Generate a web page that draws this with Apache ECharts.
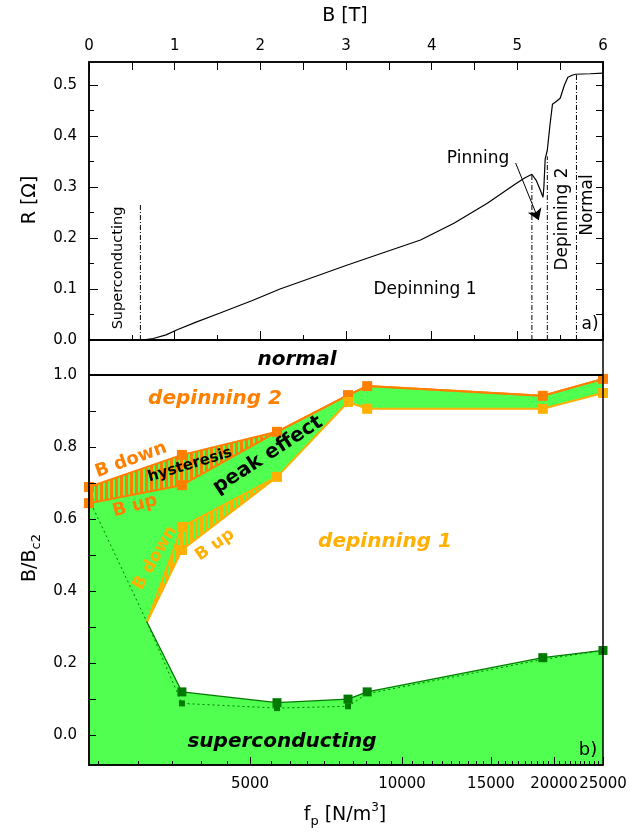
<!DOCTYPE html>
<html>
<head>
<meta charset="utf-8">
<script src="https://cdn.jsdelivr.net/npm/echarts@6/dist/echarts.min.js"></script>
<style>
html, body { margin: 0; padding: 0; background: #fff; }
#chart { width: 637px; height: 833px; }
</style>
</head>
<body>
<div id="chart"></div>
<script>
// panel a): R(B)
var fieldB = [0.62, 0.75, 0.9, 1.03, 1.25, 1.53, 1.9, 2.23, 2.6, 3.0, 3.4, 3.87, 4.26, 4.65, 4.96, 5.08, 5.17,
              5.22, 5.27, 5.30, 5.31, 5.325, 5.35, 5.38, 5.41, 5.45, 5.5, 5.55, 5.59, 5.64, 5.68, 5.85, 6.0];
var resistance = [0, 0.003, 0.010, 0.020, 0.035, 0.053, 0.077, 0.10, 0.122, 0.146, 0.169, 0.196, 0.229, 0.268, 0.304, 0.317, 0.325,
                  0.313, 0.293, 0.28, 0.30, 0.355, 0.372, 0.42, 0.462, 0.467, 0.474, 0.50, 0.515, 0.519, 0.521, 0.522, 0.523];
var phaseB = [0.6, 5.17, 5.35, 5.69];
var phaseTop = [0.265, 0.325, 0.36, 0.52];
var rLabels = [0, 0.1, 0.2, 0.3, 0.4, 0.5];
var rMinor = [0.05, 0.15, 0.25, 0.35, 0.45];

// panel b): B/Bc2 vs f_p
var fpLabels = [5000, 10000, 15000, 20000, 25000];
var fpOrange = [2400, 3666, 5655, 7817, 8531, 19000, 25000];
var orangeDown = [0.689, 0.778, 0.842, 0.944, 0.969, 0.942, 0.989];
var orangeUp = [0.644, 0.694, 0.842, 0.944, 0.969, 0.942, 0.989];
var fpYellowDown = [3126, 3666, 5655];
var yellowDown = [0.314, 0.578, 0.717];
var fpYellowUp = [3126, 3666, 5655, 7817, 8531, 19000, 25000];
var yellowUp = [0.314, 0.514, 0.717, 0.925, 0.906, 0.906, 0.95];
var fpGreen = [3126, 3666, 5655, 7817, 8531, 19000, 25000];
var greenSolid = [0.314, 0.12, 0.09, 0.10, 0.12, 0.215, 0.235];
var fpDotted = [2400, 3126, 3666, 5655, 7817, 8531, 19000, 25000];
var greenDotted = [0.655, 0.314, 0.088, 0.075, 0.08, 0.115, 0.21, 0.235];
var bLabels = [0, 0.2, 0.4, 0.6, 0.8, 1.0];
var bTicks = [0, 0.1, 0.2, 0.3, 0.4, 0.5, 0.6, 0.7, 0.8, 0.9, 1.0];

var FONT = 'DejaVu Sans';
var ORANGE = '#ff8000';
var YELLOW = '#ffb000';
var GREEN = '#50ff50';
var DKGREEN = '#007a00';

function lg(v) { return Math.log10(v); }
function pairs(xs, ys, withSym) {
    return xs.map(function (x, i) {
        var p = { value: [lg(x), ys[i]] };
        if (withSym && withSym.indexOf(i) < 0) p.symbol = 'none';
        return p;
    });
}
function stripes(c1, c2) {
    var cv = document.createElement('canvas');
    cv.width = 5; cv.height = 5;
    var ctx = cv.getContext('2d');
    ctx.fillStyle = c2; ctx.fillRect(0, 0, 5, 5);
    ctx.fillStyle = c1; ctx.fillRect(0, 0, 3, 5);
    return cv;
}

var minorFp = [];
for (var f = 2500; f <= 25000; f += 500) {
    if (fpLabels.indexOf(f) < 0) minorFp.push(lg(f));
}

var chart = echarts.init(document.getElementById('chart'));

function areaSeries(xs, ys, fill) {
    return {
        type: 'line', xAxisIndex: 2, yAxisIndex: 3, silent: true,
        data: pairs(xs, ys), symbol: 'none',
        lineStyle: { width: 0 },
        areaStyle: { origin: 'start', color: fill, opacity: 1 },
        z: 1
    };
}
function markSeries(xs, ys, color, symIdx, size, dash) {
    return {
        type: 'line', xAxisIndex: 2, yAxisIndex: 3, silent: true,
        data: pairs(xs, ys, symIdx), symbol: 'rect', symbolSize: size,
        showAllSymbol: true,
        itemStyle: { color: color },
        lineStyle: { color: color, width: dash ? 1 : (color === DKGREEN ? 1.2 : 2), type: dash ? [2, 3] : 'solid' },
        z: 3
    };
}

var phaseSeries = phaseB.map(function (b, i) {
    return {
        type: 'line', xAxisIndex: 0, yAxisIndex: 0, silent: true, symbol: 'none',
        data: [[b, 0], [b, phaseTop[i]]],
        lineStyle: { color: '#000', width: 1, type: [5, 2, 1, 2] }
    };
});

var texts = [
    { t: 'B [T]', x: 345, y: 16, s: 19 },
    { t: 'Superconducting', x: 118, y: 268, s: 14.5, r: 90 },
    { t: 'Depinning 1', x: 425, y: 290, s: 17 },
    { t: 'Pinning', x: 478, y: 159, s: 17 },
    { t: 'Depinning 2', x: 563, y: 219, s: 17, r: 90 },
    { t: 'Normal', x: 588, y: 205, s: 17, r: 90 },
    { t: 'a)', x: 590, y: 325, s: 17 },
    { t: 'b)', x: 588, y: 750, s: 18 },
    { t: 'R [Ω]', x: 30, y: 200, s: 19, r: 90 },
    { t: 'normal', x: 297, y: 360, s: 20, w: 'bold', i: true },
    { t: 'depinning 2', x: 215, y: 399, s: 20, w: 'bold', i: true, c: ORANGE },
    { t: 'B down', x: 131, y: 460, s: 18, w: 'bold', c: ORANGE, r: 20 },
    { t: 'hysteresis', x: 190, y: 465, s: 15, w: 'bold', r: 17 },
    { t: 'peak effect', x: 268, y: 455, s: 20, w: 'bold', r: 33 },
    { t: 'B up', x: 135, y: 506, s: 18, w: 'bold', c: ORANGE, r: 15 },
    { t: 'B down', x: 155, y: 558, s: 17, w: 'bold', c: YELLOW, r: 60 },
    { t: 'B up', x: 215, y: 545, s: 17, w: 'bold', c: YELLOW, r: 35 },
    { t: 'depinning 1', x: 385, y: 542, s: 20, w: 'bold', i: true, c: YELLOW },
    { t: 'superconducting', x: 282, y: 742, s: 20, w: 'bold', i: true }
];
var graphics = texts.map(function (d) {
    return {
        type: 'text', x: d.x, y: d.y, rotation: (d.r || 0) * Math.PI / 180, z: 100,
        style: {
            text: d.t, x: 0, y: 0, align: 'center', verticalAlign: 'middle',
            fill: d.c || '#000', fontFamily: FONT, fontSize: d.s,
            fontWeight: d.w || 'normal', fontStyle: d.i ? 'italic' : 'normal'
        }
    };
});
graphics.push({
    type: 'text', x: 30, y: 558, rotation: Math.PI / 2, z: 100,
    style: {
        text: '{a|B/B}{s|c2}', x: 0, y: 0, align: 'center', verticalAlign: 'middle',
        rich: {
            a: { fontFamily: FONT, fontSize: 19, lineHeight: 26, fill: '#000' },
            s: { fontFamily: FONT, fontSize: 13, lineHeight: 14, verticalAlign: 'bottom', fill: '#000' }
        }
    }
});
graphics.push({
    type: 'text', x: 345, y: 815, z: 100,
    style: {
        text: '{a|f}{s|p}{a| [N/m}{u|3}{a|]}', x: 0, y: 0, align: 'center', verticalAlign: 'middle',
        rich: {
            a: { fontFamily: FONT, fontSize: 19, lineHeight: 26, fill: '#000' },
            s: { fontFamily: FONT, fontSize: 13, lineHeight: 14, verticalAlign: 'bottom', fill: '#000' },
            u: { fontFamily: FONT, fontSize: 12, lineHeight: 14, verticalAlign: 'top', fill: '#000' }
        }
    }
});

var lblStyle = { color: '#000', fontFamily: FONT, fontSize: 15 };
var axLine = { show: true, onZero: false, lineStyle: { color: '#000', width: 1.5 } };

chart.setOption({
    animation: false,
    backgroundColor: '#fff',
    grid: [
        { left: 89, right: 34, top: 62, height: 278, show: true, borderColor: '#000', borderWidth: 1.5 },
        { left: 89, right: 34, top: 340, height: 425, show: true, borderColor: '#000', borderWidth: 1.5, zlevel: 1 }
    ],
    xAxis: [
        { gridIndex: 0, type: 'value', position: 'top', min: 0, max: 6, interval: 1, z: 10,
          axisLine: axLine, splitLine: { show: false },
          axisTick: { inside: true, length: 8, lineStyle: { color: '#000' } },
          minorTick: { show: true, splitNumber: 2, length: 8, lineStyle: { color: '#000' } },
          axisLabel: Object.assign({ margin: 8 }, lblStyle) },
        { gridIndex: 0, type: 'value', position: 'bottom', min: 0, max: 6, interval: 1, z: 10,
          axisLine: axLine, splitLine: { show: false },
          axisTick: { inside: true, length: 9, lineStyle: { color: '#000' } },
          minorTick: { show: true, splitNumber: 2, length: 5, lineStyle: { color: '#000' } },
          axisLabel: { show: false } },
        { gridIndex: 1, type: 'value', position: 'bottom', min: lg(2400), max: lg(25000), zlevel: 1, z: 10,
          axisLine: axLine, splitLine: { show: false },
          axisTick: { inside: true, length: 8, customValues: fpLabels.map(lg), lineStyle: { color: '#000' } },
          axisLabel: Object.assign({ margin: 12, customValues: fpLabels.map(lg),
              formatter: function (v) { return String(Math.round(Math.pow(10, v))); } }, lblStyle) },
        { gridIndex: 1, type: 'value', position: 'bottom', min: lg(2400), max: lg(25000), zlevel: 1, z: 10,
          axisLine: { show: false, onZero: false }, splitLine: { show: false },
          axisTick: { inside: true, length: 4, customValues: minorFp, lineStyle: { color: '#000' } },
          axisLabel: { show: false } }
    ],
    yAxis: [
        { gridIndex: 0, type: 'value', position: 'left', min: 0, max: 0.545, z: 10,
          axisLine: axLine, splitLine: { show: false },
          axisTick: { inside: true, length: 9, customValues: rLabels, lineStyle: { color: '#000' } },
          axisLabel: Object.assign({ margin: 12, customValues: rLabels,
              formatter: function (v) { return v.toFixed(1); } }, lblStyle) },
        { gridIndex: 0, type: 'value', position: 'left', min: 0, max: 0.545, z: 10,
          axisLine: { show: false, onZero: false }, splitLine: { show: false },
          axisTick: { inside: true, length: 5, customValues: rMinor, lineStyle: { color: '#000' } },
          axisLabel: { show: false } },
        { gridIndex: 0, type: 'value', position: 'right', min: 0, max: 0.545, z: 10,
          axisLine: axLine, splitLine: { show: false },
          axisTick: { inside: true, length: 7, customValues: rLabels.concat(rMinor), lineStyle: { color: '#000' } },
          axisLabel: { show: false } },
        { gridIndex: 1, type: 'value', position: 'left', min: -0.083, max: 1.097, zlevel: 1, z: 10,
          axisLine: axLine, splitLine: { show: false },
          axisTick: { inside: true, length: 7, customValues: bTicks, lineStyle: { color: '#000' } },
          axisLabel: Object.assign({ margin: 12, customValues: bLabels,
              formatter: function (v) { return v.toFixed(1); } }, lblStyle) }
    ],
    graphic: graphics,
    series: [
        {
            type: 'line', xAxisIndex: 0, yAxisIndex: 0, silent: true, symbol: 'none',
            data: fieldB.map(function (b, i) { return [b, resistance[i]]; }),
            lineStyle: { color: '#000', width: 1.2 },
            markLine: {
                silent: true, symbol: ['none', 'arrow'], symbolSize: 11,
                lineStyle: { color: '#000', width: 1, type: 'solid' }, label: { show: false },
                data: [[{ coord: [4.98, 0.347] }, { coord: [5.25, 0.235] }]]
            }
        }
    ].concat(phaseSeries).concat([
        areaSeries(fpOrange, orangeDown, { image: stripes(ORANGE, GREEN), repeat: 'repeat' }),
        areaSeries(fpOrange, orangeUp, GREEN),
        areaSeries(fpYellowDown, yellowDown, { image: stripes(YELLOW, GREEN), repeat: 'repeat' }),
        areaSeries(fpYellowUp, yellowUp, '#ffffff'),
        areaSeries(fpGreen, greenSolid, GREEN),
        markSeries(fpOrange, orangeDown, ORANGE, [0, 1, 2, 3, 4, 5, 6], 10),
        markSeries(fpOrange, orangeUp, ORANGE, [0, 1], 10),
        markSeries(fpYellowDown, yellowDown, YELLOW, [1], 10),
        markSeries(fpYellowUp, yellowUp, YELLOW, [1, 2, 3, 4, 5, 6], 10),
        markSeries(fpGreen, greenSolid, DKGREEN, [1, 2, 3, 4, 5, 6], 9),
        markSeries(fpDotted, greenDotted, DKGREEN, [2, 3, 4], 6, true),
        {
            type: 'line', xAxisIndex: 2, yAxisIndex: 3, silent: true, data: [], z: 4,
            markLine: {
                silent: true, symbol: 'none', label: { show: false },
                lineStyle: { color: '#000', width: 2, type: 'solid' },
                data: [{ yAxis: 1.0 }]
            }
        }
    ])
});
</script>
</body>
</html>
